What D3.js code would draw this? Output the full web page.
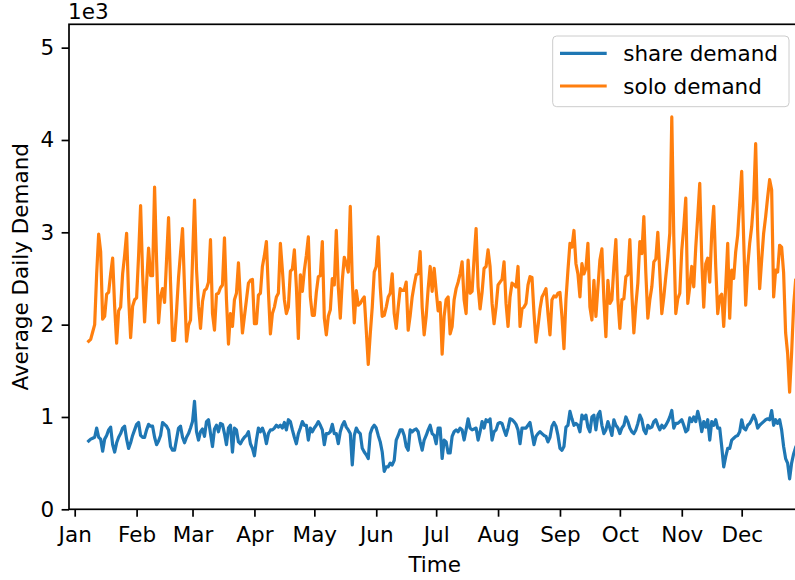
<!DOCTYPE html>
<html>
<head>
<meta charset="utf-8">
<script src="https://cdn.jsdelivr.net/npm/d3@7"></script>
<style>
body { margin: 0; background: #fff; }
svg { display: block; }
</style>
</head>
<body>
<div id="chart"></div>
<script>
'use strict';

var YEAR_START = '2018-01-01';
var FIRST_DAY = '2018-01-08';
var SERIES = ['share demand', 'solo demand'];
var MONTHS = ['Jan', 'Feb', 'Mar', 'Apr', 'May', 'Jun', 'Jul', 'Aug', 'Sep', 'Oct', 'Nov', 'Dec'];
var Y_TICKS = [0, 1000, 2000, 3000, 4000, 5000];

// one value per day, starting at FIRST_DAY (rows are weeks)
var shareDemand = [
    740, 760, 770, 780, 880, 780, 760,     // Jan 8
    630, 760, 800, 860, 890, 700, 620,     // Jan 15
    720, 780, 820, 880, 900, 760, 660,     // Jan 22
    720, 800, 860, 920, 940, 800, 780,     // Jan 29
    780, 860, 920, 900, 900, 780, 700,     // Feb 5
    740, 800, 940, 920, 900, 860, 680,     // Feb 12
    640, 640, 760, 880, 900, 780, 720,     // Feb 19
    780, 820, 880, 950, 1170, 840, 750,    // Feb 26
    840, 870, 790, 950, 970, 820, 680,     // Mar 5
    870, 910, 840, 930, 920, 820, 700,     // Mar 12
    880, 910, 620, 880, 860, 730, 710,     // Mar 19
    750, 780, 800, 840, 710, 660, 580,     // Mar 26
    750, 880, 840, 880, 820, 710, 820,     // Apr 2
    860, 860, 880, 910, 890, 910, 880,     // Apr 9
    940, 860, 970, 950, 860, 780, 710,     // Apr 16
    820, 880, 950, 910, 910, 750, 880,     // Apr 23
    840, 880, 910, 950, 910, 860, 700,     // Apr 30
    820, 820, 840, 920, 820, 820, 710,     // May 7
    840, 910, 950, 890, 860, 820, 480,     // May 14
    800, 880, 840, 820, 660, 620, 590,     // May 21
    550, 820, 880, 910, 880, 800, 730,     // May 28
    620, 410, 460, 460, 500, 480, 530,     // Jun 4
    750, 800, 860, 860, 800, 680, 640,     // Jun 11
    860, 840, 860, 870, 840, 730, 640,     // Jun 18
    750, 800, 860, 910, 820, 800, 710,     // Jun 25
    880, 880, 550, 750, 730, 610, 610,     // Jul 2
    790, 840, 860, 840, 880, 860, 750,     // Jul 9
    860, 980, 880, 860, 870, 880, 750,     // Jul 16
    840, 950, 880, 970, 950, 980, 750,     // Jul 23
    840, 860, 930, 940, 930, 860, 800,     // Jul 30
    880, 980, 970, 950, 920, 860, 710,     // Aug 6
    880, 880, 880, 910, 940, 820, 700,     // Aug 13
    790, 820, 840, 820, 800, 790, 730,     // Aug 20
    780, 900, 940, 900, 800, 660, 640,     // Aug 27
    680, 890, 910, 1060, 980, 910, 930,    // Sep 3
    910, 840, 1020, 980, 1020, 890, 840,   // Sep 10
    1000, 1020, 860, 1020, 1060, 910, 820, // Sep 17
    860, 950, 880, 800, 970, 910, 880,     // Sep 24
    820, 880, 910, 1000, 950, 880, 840,    // Oct 1
    820, 860, 930, 1020, 970, 860, 820,    // Oct 8
    910, 880, 890, 950, 970, 910, 860,     // Oct 15
    910, 880, 910, 950, 1000, 1070, 880,   // Oct 22
    930, 930, 950, 970, 910, 840, 860,     // Oct 29
    990, 950, 1000, 950, 1060, 970, 840,   // Nov 5
    950, 890, 970, 750, 950, 910, 970,     // Nov 12
    880, 880, 680, 460, 570, 660, 660,     // Nov 19
    750, 770, 790, 800, 840, 970, 880,     // Nov 26
    860, 910, 930, 970, 1020, 970, 880,    // Dec 3
    910, 930, 950, 970, 980, 970, 1070,    // Dec 10
    910, 970, 930, 970, 860, 680, 550,     // Dec 17
    500, 330, 500, 600, 670                // Dec 24
];

var soloDemand = [
    1820, 1840, 1920, 2000, 2550, 2980, 2790, // Jan 8
    2060, 2090, 2330, 2350, 2550, 2720, 2200, // Jan 15
    1800, 2150, 2190, 2550, 2750, 2990, 2300, // Jan 22
    1860, 2200, 2270, 2290, 2750, 3290, 2550, // Jan 29
    2030, 2450, 2830, 2530, 2530, 3490, 2700, // Feb 5
    2020, 2300, 2390, 2240, 2700, 3160, 2450, // Feb 12
    1830, 1830, 2150, 2510, 2780, 3040, 2400, // Feb 19
    1820, 1990, 2050, 2700, 3350, 2600, 2200, // Feb 26
    1960, 2250, 2370, 2390, 2460, 2920, 2120, // Mar 5
    1940, 2330, 2340, 2400, 2430, 2940, 2270, // Mar 12
    1790, 2120, 1980, 2270, 2340, 2670, 2270, // Mar 19
    1910, 2090, 2270, 2450, 2480, 2490, 2010, // Mar 26
    2010, 2320, 2340, 2630, 2750, 2900, 2360, // Apr 2
    1900, 2120, 2190, 2300, 2340, 2880, 2590, // Apr 9
    2270, 2120, 2190, 2580, 2600, 2810, 2410, // Apr 16
    1850, 2540, 2360, 2590, 2750, 2950, 2300, // Apr 23
    2100, 2100, 2350, 2520, 2530, 2900, 2070, // Apr 30
    1890, 2090, 2160, 2500, 2430, 3020, 2410, // May 7
    2070, 2480, 2730, 2660, 2570, 3280, 2480, // May 14
    2020, 2370, 2210, 2230, 2270, 2300, 1940, // May 21
    1570, 1900, 2190, 2570, 2630, 2950, 2410, // May 28
    2090, 2100, 2190, 2300, 2340, 2550, 2120, // Jun 4
    1960, 2190, 2390, 2370, 2370, 2460, 1940, // Jun 11
    2100, 2300, 2430, 2540, 2550, 2790, 2190, // Jun 18
    1890, 2090, 2390, 2630, 2360, 2610, 2370, // Jun 25
    2150, 2240, 1680, 2090, 2270, 2300, 1900, // Jul 2
    1980, 2270, 2390, 2460, 2550, 2680, 2270, // Jul 9
    2120, 2700, 2340, 2360, 2720, 3040, 2410, // Jul 16
    2170, 2350, 2610, 2630, 2810, 2630, 2230, // Jul 23
    2010, 2190, 2430, 2460, 2490, 2680, 2230, // Jul 30
    1980, 2300, 2450, 2430, 2410, 2630, 1980, // Aug 6
    2170, 2190, 2230, 2430, 2520, 2510, 2120, // Aug 13
    1810, 1980, 2170, 2300, 2340, 2390, 2120, // Aug 20
    1890, 2270, 2310, 2300, 2340, 2350, 2090, // Aug 27
    1740, 2270, 2590, 2880, 2840, 3020, 2660, // Sep 3
    2550, 2300, 2660, 2550, 2610, 2880, 2190, // Sep 10
    2050, 2480, 2090, 2400, 2700, 2820, 2270, // Sep 17
    1870, 2480, 2230, 2270, 2630, 2920, 2270, // Sep 24
    1960, 2270, 2280, 2520, 2540, 2920, 2340, // Oct 1
    1910, 2210, 2450, 2900, 2770, 3170, 2560, // Oct 8
    2070, 2270, 2410, 2680, 2710, 3000, 2560, // Oct 15
    2120, 2300, 2520, 2730, 2990, 4250, 2950, // Oct 22
    2120, 2280, 2340, 2810, 3060, 3370, 2230, // Oct 29
    2410, 2630, 2410, 2840, 3170, 3530, 2700, // Nov 5
    2190, 2660, 2720, 2460, 2990, 3280, 2630, // Nov 12
    2120, 2300, 2330, 1980, 2410, 2880, 2070, // Nov 19
    2590, 2500, 2790, 2970, 3310, 3660, 2920, // Nov 26
    2210, 2630, 2880, 3060, 3350, 3960, 3020, // Dec 3
    2390, 2700, 2990, 3170, 3380, 3570, 3460, // Dec 10
    2300, 2590, 2570, 2860, 2840, 2560, 1910, // Dec 17
    1690, 1270, 1690, 2200, 2480              // Dec 24
];

var CONFIG = {
    width: 795,
    height: 580,
    plot: { left: 69, top: 24.3, right: 800.4, bottom: 509.3 },
    xDays: [-2.854, 363.4],   // axis limits in days from YEAR_START
    yMax: 5253,
    font: '"DejaVu Sans", sans-serif',
    fontSize: 21.5,
    colors: ['#1f77b4', '#ff7f0e'],
    lineWidth: 3.2,
    spineWidth: 1.7,
    tickSize: 7.4,
    tickPad: 7.4
};

function drawChart(root) {
    var c = CONFIG;
    var p = c.plot;
    var parseDay = d3.utcParse('%Y-%m-%d');
    var yearStart = parseDay(YEAR_START);
    var firstDay = parseDay(FIRST_DAY);
    var dayMs = 864e5;

    var x = d3.scaleUtc()
        .domain([new Date(+yearStart + c.xDays[0] * dayMs), new Date(+yearStart + c.xDays[1] * dayMs)])
        .range([p.left, p.right]);
    var y = d3.scaleLinear()
        .domain([0, c.yMax])
        .range([p.bottom, p.top]);

    var svg = d3.select(root).append('svg')
        .attr('width', c.width)
        .attr('height', c.height)
        .style('font-family', c.font);

    svg.append('defs').append('clipPath').attr('id', 'plot-clip')
        .append('rect')
        .attr('x', p.left).attr('y', p.top)
        .attr('width', p.right - p.left).attr('height', p.bottom - p.top);

    // lines
    var line = d3.line()
        .x(function (d, i) { return x(d3.utcDay.offset(firstDay, i)); })
        .y(function (d) { return y(d); });
    [shareDemand, soloDemand].forEach(function (values, k) {
        svg.append('path')
            .attr('clip-path', 'url(#plot-clip)')
            .attr('fill', 'none')
            .attr('stroke', c.colors[k])
            .attr('stroke-width', c.lineWidth)
            .attr('stroke-linejoin', 'round')
            .attr('stroke-linecap', 'square')
            .attr('d', line(values));
    });

    // axes
    var xAxis = d3.axisBottom(x)
        .tickValues(d3.utcMonth.range(yearStart, d3.utcYear.offset(yearStart, 1)))
        .tickFormat(function (d, i) { return MONTHS[i]; })
        .tickSize(c.tickSize)
        .tickPadding(c.tickPad);
    var gx = svg.append('g')
        .attr('transform', 'translate(0,' + p.bottom + ')')
        .call(xAxis);

    var yAxis = d3.axisLeft(y)
        .tickValues(Y_TICKS)
        .tickFormat(function (d) { return d / 1000; })
        .tickSize(c.tickSize)
        .tickPadding(c.tickPad);
    var gy = svg.append('g')
        .attr('transform', 'translate(' + p.left + ',0)')
        .call(yAxis);

    [gx, gy].forEach(function (g) {
        g.attr('font-size', null).attr('font-family', null);
        g.select('.domain').remove();
        g.selectAll('.tick line').attr('stroke', '#000').attr('stroke-width', c.spineWidth);
        g.selectAll('.tick text').attr('fill', '#000').attr('font-size', c.fontSize);
    });
    gx.selectAll('.tick text').attr('y', 17);

    // spines
    svg.append('rect')
        .attr('x', p.left).attr('y', p.top)
        .attr('width', p.right - p.left).attr('height', p.bottom - p.top)
        .attr('fill', 'none')
        .attr('stroke', '#000')
        .attr('stroke-width', c.spineWidth);

    // labels
    svg.append('text')
        .attr('x', 68).attr('y', 18.5)
        .attr('font-size', c.fontSize)
        .text('1e3');
    svg.append('text')
        .attr('x', (p.left + p.right) / 2).attr('y', 572)
        .attr('text-anchor', 'middle')
        .attr('font-size', c.fontSize)
        .text('Time');
    svg.append('text')
        .attr('transform', 'translate(27.5,' + (p.top + p.bottom) / 2 + ') rotate(-90)')
        .attr('text-anchor', 'middle')
        .attr('font-size', c.fontSize)
        .text('Average Daily Demand');

    // legend
    var legend = svg.append('g').attr('transform', 'translate(552.7,36)');
    legend.append('rect')
        .attr('width', 236.3).attr('height', 70.7)
        .attr('rx', 4).attr('ry', 4)
        .attr('fill', '#fff').attr('fill-opacity', 0.8)
        .attr('stroke', '#cccccc').attr('stroke-width', 1);
    SERIES.forEach(function (name, k) {
        var ly = 17.3 + k * 32.7;
        legend.append('line')
            .attr('x1', 7.3).attr('x2', 54)
            .attr('y1', ly).attr('y2', ly)
            .attr('stroke', c.colors[k])
            .attr('stroke-width', c.lineWidth);
        legend.append('text')
            .attr('x', 70.6).attr('y', ly + 8)
            .attr('font-size', c.fontSize)
            .text(name);
    });
}

drawChart('#chart');
</script>
</body>
</html>
